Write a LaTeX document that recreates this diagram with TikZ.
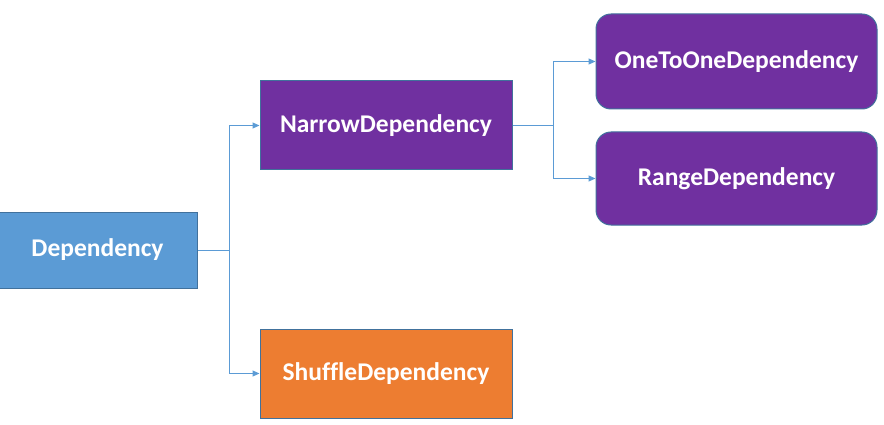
\documentclass[tikz,border=0pt]{standalone}
\usepackage{fontspec}
\setmainfont[Ligatures=NoCommon]{Carlito}
\usetikzlibrary{arrows.meta}
\definecolor{cblue}{HTML}{5B9BD5}
\definecolor{cborder}{HTML}{41719C}
\definecolor{cpurple}{HTML}{7030A0}
\definecolor{corange}{HTML}{ED7D31}
\tikzset{
  box/.style={draw=cborder, line width=1pt, text=white, font=\bfseries\fontsize{25.5}{28}\selectfont, inner sep=0pt},
  conn/.style={draw=cblue, line width=1pt, -{Triangle[length=7pt,width=6pt]}},
  line/.style={draw=cblue, line width=1pt}
}
\begin{document}
\begin{tikzpicture}[x=1pt,y=-1pt]
\useasboundingbox (0,0) rectangle (884,425);
\node[box, fill=cblue, minimum width=199pt, minimum height=76pt] (dep) at (97.5,250) {Dependency};
\node[box, fill=cpurple, minimum width=252pt, minimum height=89pt] (nar) at (386,125.5) {NarrowDependency};
\node[box, fill=corange, minimum width=252pt, minimum height=89pt] (shu) at (386,373.5) {ShuffleDependency};
\node[box, fill=cpurple, rounded corners=15pt, minimum width=281pt, minimum height=95pt] (one) at (736.5,61.5) {OneToOneDependency};
\node[box, fill=cpurple, rounded corners=15pt, minimum width=281pt, minimum height=93pt] (rng) at (736.5,178.5) {RangeDependency};
\coordinate (j1) at (229,250);
\coordinate (j2) at (553,125.5);
\draw[line] (dep.east) -- (j1);
\draw[conn] (j1) |- (nar.west);
\draw[conn] (j1) |- (shu.west);
\draw[line] (nar.east) -- (j2);
\draw[conn] (j2) |- (one.west);
\draw[conn] (j2) |- (rng.west);
\end{tikzpicture}
\end{document}
